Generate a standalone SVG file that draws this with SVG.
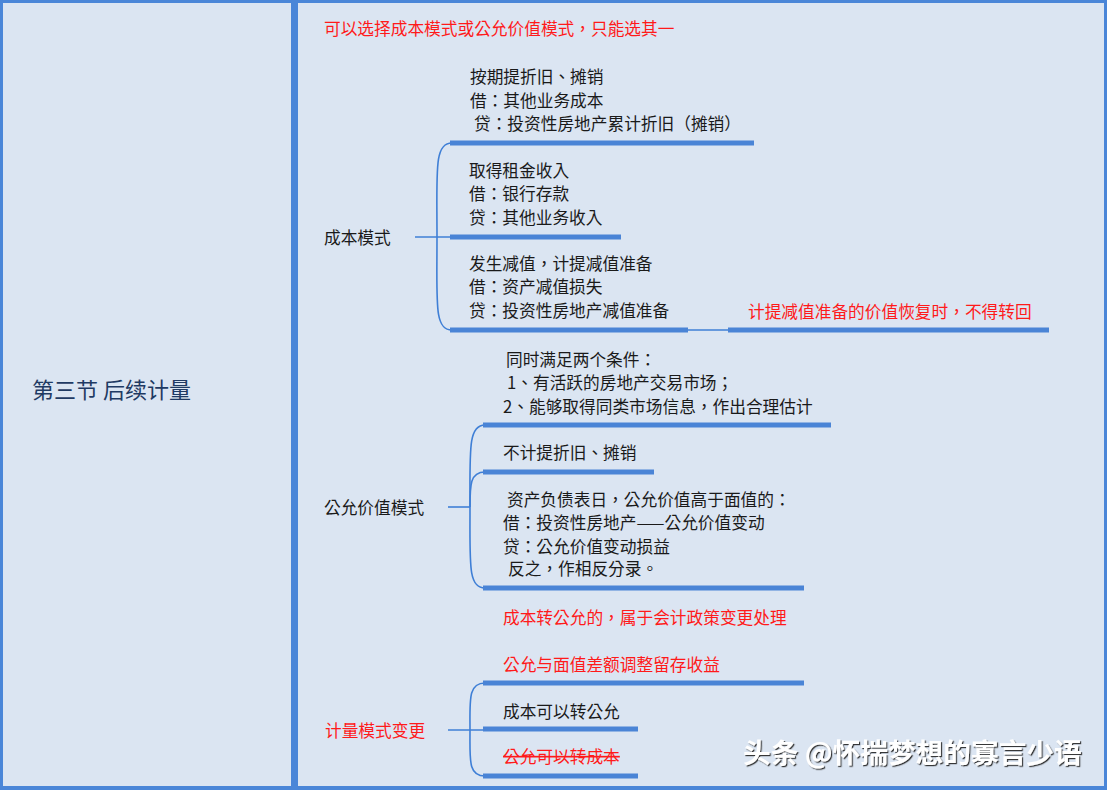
<svg xmlns="http://www.w3.org/2000/svg" width="1107" height="790" viewBox="0 0 1107 790">
<style>
.t{font-family:"Noto Sans CJK TC","Noto Sans CJK SC",sans-serif;font-size:16.7px;fill:#1a1a1a;text-spacing-trim:space-all;font-kerning:none;font-feature-settings:"chws" 0,"halt" 0,"palt" 0}
.r{fill:#ff1a1a}
.bar{stroke:#4a84d6;stroke-width:5;fill:none}
.ln{stroke:#3f7fd6;stroke-width:1.6;fill:none}
.title{font-family:"Noto Sans CJK SC",sans-serif;font-size:22px;fill:#1f3a63}
.wm{font-family:"Noto Sans CJK SC",sans-serif;font-size:27.7px;fill:#ffffff;font-weight:bold}
</style>
<defs>
<filter id="sh" x="-5%" y="-30%" width="110%" height="160%">
<feDropShadow dx="1.2" dy="1.2" stdDeviation="0.6" flood-color="#222" flood-opacity="0.9"/>
</filter>
</defs>
<rect x="0" y="0" width="1107" height="790" fill="#4a86d8"/>
<rect x="3" y="3" width="288" height="783" fill="#dbe5f2"/>
<rect x="298" y="3" width="806" height="783" fill="#dbe5f2"/>

<g id="root"><text class="title" x="32" y="398">第三节 后续计量</text></g>

<g id="connectors">
<path class="ln" d="M415,237 H450"/>
<path class="ln" d="M437,237 C437,170 434,143 452,143"/>
<path class="ln" d="M437,237 C437,304 434,330 452,330"/>
<path class="ln" d="M688,330 H728"/>
<path class="ln" d="M448,507 H470"/>
<path class="ln" d="M470,507 C470,450 468,425 485,425"/>
<path class="ln" d="M470,507 C470,485 470,472 485,472"/>
<path class="ln" d="M470,507 C470,565 468,588 485,588"/>
<path class="ln" d="M448,730 H485"/>
<path class="ln" d="M470,730 C470,700 468,683 485,683"/>
<path class="ln" d="M470,730 C470,760 468,776 485,776"/>
<path class="bar" d="M450,143 H754"/>
<path class="bar" d="M450,237 H621"/>
<path class="bar" d="M450,330 H688"/>
<path class="bar" d="M728,330 H1049"/>
<path class="bar" d="M483,425 H831"/>
<path class="bar" d="M483,472 H654"/>
<path class="bar" d="M483,588 H804"/>
<path class="bar" d="M483,683 H804"/>
<path class="bar" d="M483,729 H638"/>
<path class="bar" d="M483,776 H638"/>
</g>

<g id="note-top"><text class="t r" x="324" y="35">可以选择成本模式或公允价值模式，只能选其一</text></g>

<g id="cost-mode"><text class="t" x="324" y="244">成本模式</text></g>
<g id="cost-dep">
<text class="t" x="470" y="83">按期提折旧、摊销</text>
<text class="t" x="470" y="107">借：其他业务成本</text>
<text class="t" x="474" y="130">贷：投资性房地产累计折旧（摊销）</text>
</g>
<g id="cost-rent">
<text class="t" x="469" y="177">取得租金收入</text>
<text class="t" x="469" y="200">借：银行存款</text>
<text class="t" x="469" y="224">贷：其他业务收入</text>
</g>
<g id="cost-impair">
<text class="t" x="469" y="270">发生减值，计提减值准备</text>
<text class="t" x="469" y="293">借：资产减值损失</text>
<text class="t" x="469" y="317">贷：投资性房地产减值准备</text>
</g>
<g id="cost-impair-note"><text class="t r" x="748" y="318">计提减值准备的价值恢复时，不得转回</text></g>

<g id="fv-mode"><text class="t" x="324" y="514">公允价值模式</text></g>
<g id="fv-cond">
<text class="t" x="506" y="366">同时满足两个条件：</text>
<text class="t" x="507" y="389">1、有活跃的房地产交易市场；</text>
<text class="t" x="503" y="413">2、能够取得同类市场信息，作出合理估计</text>
</g>
<g id="fv-nodep"><text class="t" x="503" y="459">不计提折旧、摊销</text></g>
<g id="fv-entry">
<text class="t" x="507" y="506">资产负债表日，公允价值高于面值的：</text>
<text class="t" x="503" y="529">借：投资性房地产——公允价值变动</text>
<text class="t" x="503" y="553">贷：公允价值变动损益</text>
<text class="t" x="508" y="575">反之，作相反分录。</text>
</g>

<g id="change-mode"><text class="t r" x="325" y="737">计量模式变更</text></g>
<g id="change-note"><text class="t r" x="503" y="624">成本转公允的，属于会计政策变更处理</text></g>
<g id="change-diff"><text class="t r" x="503" y="671">公允与面值差额调整留存收益</text></g>
<g id="change-c2f"><text class="t" x="503" y="718">成本可以转公允</text></g>
<g id="change-f2c"><text class="t r" x="503" y="763" text-decoration="line-through">公允可以转成本</text></g>

<g id="watermark"><text class="wm" x="743" y="763" filter="url(#sh)">头条 @怀揣梦想的寡言少语</text></g>
</svg>
